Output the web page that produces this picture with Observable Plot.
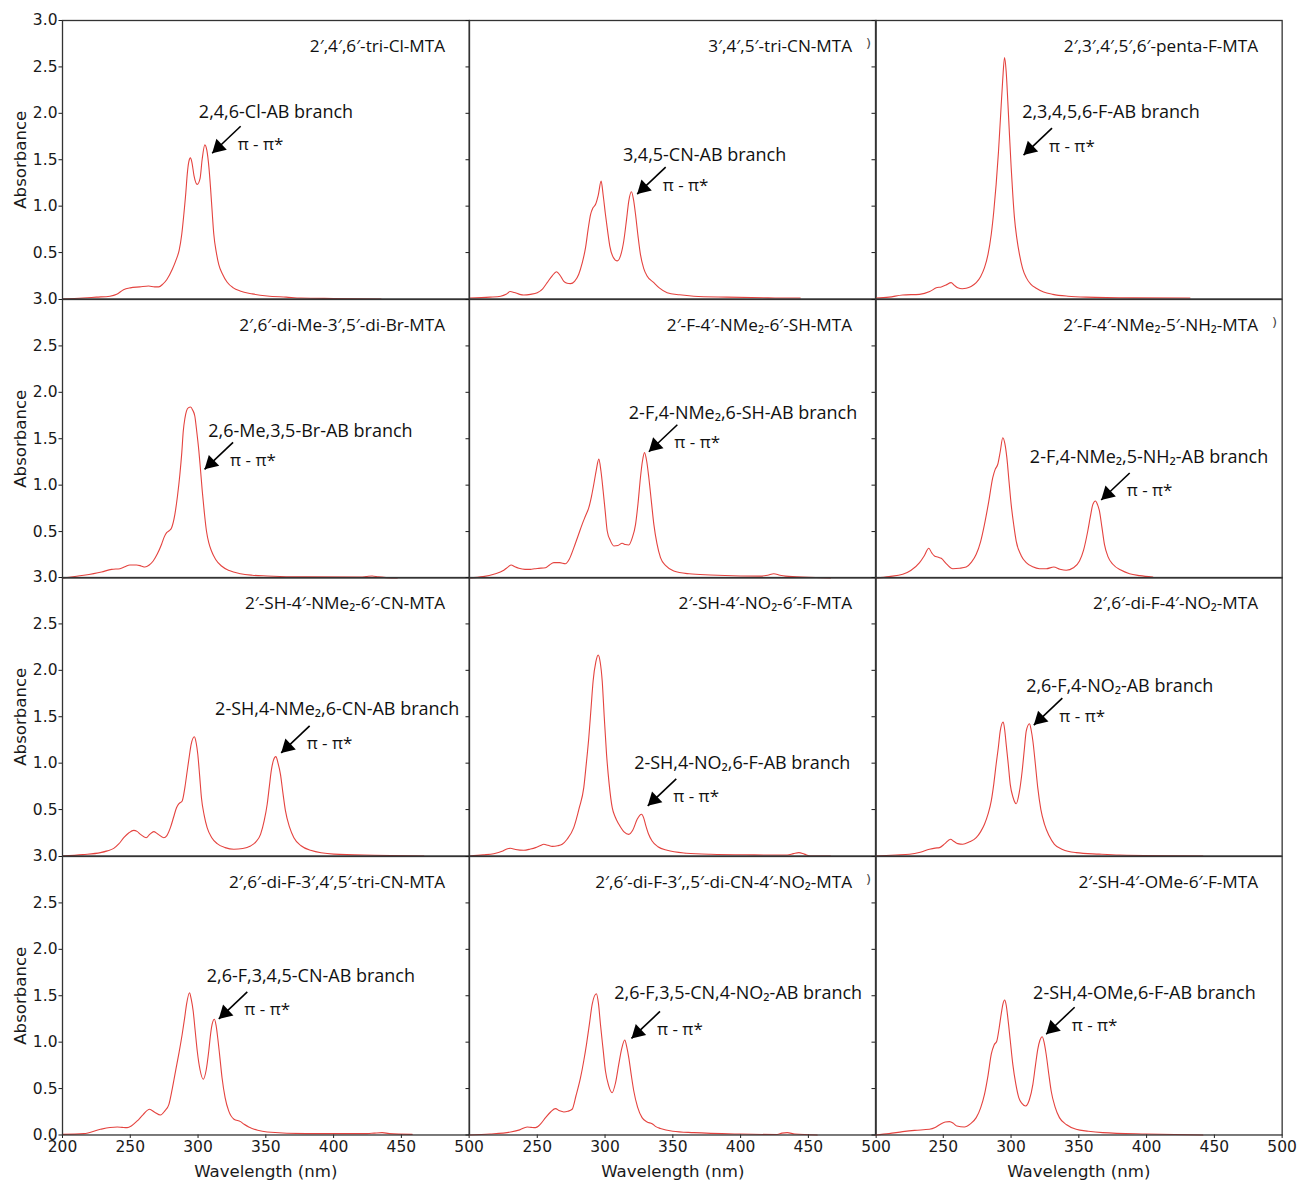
<!DOCTYPE html>
<html><head><meta charset="utf-8">
<script src="https://cdn.jsdelivr.net/npm/d3@7"></script>
<script src="https://cdn.jsdelivr.net/npm/@observablehq/plot@0.6"></script>
<style>
body{margin:0;background:#fff;}
#fig{position:relative;width:1298px;height:1180px;overflow:hidden;background:#fff;}
.panel{position:absolute;}
.panel svg{max-width:none !important;}
</style></head><body><div id="fig"></div>
<script>
// ---- data: UV-Vis spectra [wavelength nm, absorbance] ----
const triCl = [[200,0.0],[215,0.01],[225,0.02],[235,0.03],[240,0.05],[245,0.10],[250,0.12],[257,0.13],[263.5,0.14],[268,0.13],[271,0.13],[274,0.16],[277,0.21],[281,0.32],[284,0.43],[286,0.52],[288,0.70],[289.5,0.91],[291,1.15],[292,1.34],[293.2,1.48],[294.4,1.52],[295.5,1.47],[297,1.33],[299.4,1.235],[301.5,1.30],[303,1.50],[305,1.66],[306.5,1.60],[308,1.42],[309.2,1.20],[310.5,0.92],[311.6,0.70],[313.5,0.50],[315.3,0.37],[318,0.27],[321.5,0.18],[326,0.12],[331,0.086],[340,0.055],[351,0.032],[365,0.02],[376,0.01],[400,0.005],[435,0.0]];
const triCN = [[200,0.01],[215,0.02],[223,0.03],[227,0.05],[230,0.08],[233,0.07],[237,0.05],[240,0.043],[245,0.05],[250,0.068],[254,0.11],[257.3,0.176],[261,0.25],[264.2,0.294],[267,0.25],[269.6,0.19],[272,0.17],[274.5,0.165],[277.5,0.19],[280.6,0.266],[283,0.38],[285.6,0.553],[287.5,0.75],[289.3,0.91],[291,0.98],[293,1.02],[295,1.12],[297.1,1.27],[298.6,1.12],[300.3,0.91],[302,0.72],[303.5,0.57],[306,0.45],[309,0.41],[311.5,0.47],[313.8,0.625],[315.8,0.85],[317.5,1.055],[319.5,1.155],[321,1.07],[322.5,0.91],[324.3,0.68],[326.1,0.48],[328.5,0.33],[331,0.248],[336,0.176],[340,0.12],[345.8,0.068],[355,0.045],[365.5,0.03],[390,0.02],[420,0.012],[444,0.01]];
const pentaF = [[200,0.01],[210,0.02],[220,0.043],[232.5,0.05],[240,0.08],[244.8,0.12],[248.5,0.13],[252,0.15],[255.8,0.176],[258,0.15],[260.7,0.12],[264,0.11],[266.9,0.115],[270.5,0.135],[274.3,0.176],[277.5,0.24],[280.4,0.337],[283,0.48],[285.4,0.697],[287.3,0.95],[289,1.235],[290.7,1.58],[292.2,1.953],[293.8,2.35],[295.2,2.60],[296.4,2.45],[297.6,2.13],[298.9,1.75],[300.1,1.414],[301.3,1.12],[302.5,0.876],[304.3,0.65],[306.2,0.48],[308.5,0.33],[311.2,0.23],[314.5,0.16],[318.6,0.115],[324,0.075],[330.8,0.05],[342,0.03],[355.4,0.02],[390,0.012],[432,0.01]];
const diMeDiBr = [[200,0.0],[215.7,0.029],[228.8,0.065],[236.2,0.093],[242.4,0.10],[246,0.12],[249.7,0.14],[254.6,0.14],[258,0.13],[260.8,0.118],[264,0.14],[266.9,0.183],[270,0.26],[273.1,0.363],[275,0.44],[276.8,0.488],[278.8,0.51],[280.5,0.542],[282.9,0.686],[284.8,0.88],[286.6,1.117],[288,1.35],[289.1,1.583],[290.3,1.72],[291.5,1.80],[293,1.835],[294.5,1.842],[296,1.81],[297.6,1.745],[299.1,1.57],[300.6,1.368],[301.9,1.15],[303.1,0.937],[304.6,0.71],[306.2,0.506],[307.9,0.38],[309.9,0.291],[313,0.2],[317.3,0.129],[323,0.08],[331.3,0.046],[340,0.03],[351,0.022],[380,0.012],[419.8,0.01],[424,0.015],[428.4,0.022],[433,0.012],[446.9,0.0]];
const fNMe2SH = [[200,0.0],[210,0.015],[217.9,0.04],[225.3,0.083],[228.5,0.12],[230.7,0.14],[233.5,0.12],[236.4,0.104],[241,0.093],[245,0.093],[248,0.10],[251.1,0.104],[256.1,0.111],[259,0.14],[262.2,0.165],[266.5,0.165],[270.8,0.154],[273.5,0.2],[277,0.327],[280,0.45],[283.1,0.578],[285.6,0.67],[288,0.757],[290,0.88],[291.7,1.01],[293.5,1.16],[295.4,1.28],[297,1.15],[298.6,0.937],[300.1,0.72],[301.6,0.506],[304,0.40],[306.5,0.345],[309.5,0.35],[312.6,0.374],[315,0.36],[317.5,0.356],[320,0.43],[322.5,0.578],[324.3,0.8],[326.1,1.08],[327.6,1.26],[329.1,1.35],[330.7,1.26],[332.3,1.08],[334.2,0.82],[336,0.578],[338.3,0.37],[340.9,0.219],[345,0.13],[350.7,0.075],[362,0.045],[377.8,0.032],[400,0.022],[414.7,0.02],[420,0.03],[424.5,0.046],[429,0.03],[433.1,0.02],[450,0.008],[466.3,0.0]];
const fNMe2NH2 = [[200.5,0.0],[210,0.015],[220.1,0.04],[226,0.08],[232.5,0.165],[236,0.24],[239.3,0.32],[241.5,0.27],[243.5,0.237],[246,0.225],[248.5,0.212],[252.5,0.15],[257,0.10],[262,0.105],[266.9,0.118],[270.8,0.17],[274.3,0.255],[277.5,0.39],[280.4,0.578],[283.5,0.82],[286.5,1.08],[288.3,1.17],[290.2,1.225],[292,1.36],[293.9,1.51],[295.4,1.45],[296.9,1.296],[298.5,1.04],[300.1,0.79],[302,0.57],[303.8,0.398],[307.5,0.24],[311.2,0.165],[316,0.12],[321,0.10],[326,0.10],[331.5,0.118],[336,0.095],[340.7,0.083],[346,0.11],[350.5,0.183],[353.5,0.3],[356.6,0.506],[358.5,0.66],[360.3,0.79],[362.3,0.83],[363.8,0.79],[365.2,0.722],[367,0.55],[368.9,0.363],[371.5,0.23],[375.1,0.148],[381,0.085],[387.4,0.046],[395,0.025],[404.6,0.01]];
const shNMe2CN = [[200,0.0],[215,0.015],[228,0.036],[233,0.055],[237.8,0.082],[241.5,0.13],[245.2,0.197],[249,0.25],[252.6,0.276],[255,0.265],[257.5,0.233],[261.7,0.197],[264.5,0.235],[267.3,0.262],[270,0.24],[274.7,0.197],[277,0.22],[279.6,0.305],[282,0.42],[284.1,0.52],[286,0.565],[288.3,0.593],[290.3,0.74],[292,0.916],[293.6,1.08],[294.9,1.203],[297.3,1.285],[298.6,1.22],[299.8,1.096],[301.2,0.86],[302.5,0.628],[304.5,0.44],[306.7,0.305],[310,0.2],[314.1,0.133],[320,0.09],[326.4,0.072],[333,0.08],[338.7,0.108],[342.5,0.15],[346.1,0.233],[348.8,0.38],[351,0.557],[352.6,0.75],[354,0.916],[355.6,1.03],[357.4,1.07],[359,1.0],[360.8,0.88],[362.6,0.68],[364.5,0.485],[367.5,0.31],[370.7,0.197],[376,0.11],[383,0.061],[400.2,0.02],[430,0.008],[466.6,0.0]];
const shNO2F = [[200,0.0],[210,0.012],[217.9,0.025],[224,0.05],[227.5,0.075],[230.2,0.083],[234,0.07],[240,0.061],[245,0.075],[248.7,0.09],[252,0.11],[254.8,0.126],[258,0.115],[261,0.104],[265,0.11],[268.4,0.126],[272,0.18],[276.9,0.305],[281,0.52],[284.3,0.736],[286.2,1.0],[288,1.274],[289.7,1.6],[291.2,1.885],[293.2,2.09],[294.9,2.165],[296.4,2.09],[297.9,1.885],[299.4,1.5],[301.1,1.096],[303,0.78],[305.3,0.52],[307.5,0.42],[310.2,0.341],[314,0.26],[317.5,0.233],[320.5,0.28],[323.7,0.395],[326.9,0.449],[328.5,0.41],[329.8,0.341],[332,0.24],[334.7,0.162],[339,0.1],[345.8,0.061],[360,0.03],[377.8,0.018],[410,0.012],[434.4,0.01],[439,0.025],[443,0.036],[447,0.02],[451.6,0.0],[466.3,0.0]];
const diFNO2 = [[200.5,0.0],[215,0.01],[225.1,0.018],[233,0.04],[239.8,0.072],[244,0.085],[247.2,0.09],[251,0.13],[255.3,0.18],[258,0.155],[260.7,0.133],[264.4,0.126],[269,0.15],[274.3,0.197],[277.5,0.26],[280.4,0.341],[283,0.45],[285.4,0.593],[287.3,0.78],[289,0.988],[290.7,1.18],[292,1.346],[294.2,1.443],[295.3,1.36],[296.4,1.203],[298,0.98],[299.4,0.772],[301.5,0.63],[303.8,0.563],[306,0.68],[308.2,0.916],[309.8,1.15],[311.2,1.346],[313.6,1.425],[314.8,1.36],[316.1,1.239],[318,0.98],[319.7,0.736],[322,0.5],[324.7,0.341],[328,0.22],[332,0.126],[338,0.07],[348,0.036],[365,0.02],[380,0.01],[441.5,0.0]];
const diFTriCN = [[200,0.007],[215.7,0.015],[228,0.061],[235,0.08],[240.4,0.086],[244,0.082],[247.7,0.079],[251,0.1],[255.1,0.151],[259.5,0.22],[264.2,0.277],[268,0.245],[272.3,0.215],[275.5,0.26],[278.5,0.33],[281,0.5],[283.4,0.689],[286,0.89],[288.3,1.085],[290,1.25],[291.5,1.408],[293.7,1.533],[295,1.46],[296.4,1.336],[297.9,1.12],[299.4,0.905],[301.5,0.7],[303.8,0.6],[306,0.7],[307.9,0.905],[309.2,1.08],[310.4,1.193],[312.1,1.246],[313.3,1.18],[314.5,1.048],[316,0.85],[317.7,0.617],[320,0.4],[322.6,0.259],[326.5,0.17],[331.3,0.144],[334,0.115],[337.4,0.086],[344,0.05],[351,0.032],[380,0.015],[424.8,0.015],[430,0.02],[435.8,0.025],[441,0.015],[458,0.007]];
const diFDiCNNO2 = [[200,0.0],[215,0.01],[230.2,0.032],[237,0.055],[242.5,0.086],[245.5,0.082],[248.7,0.079],[252.5,0.12],[256.1,0.187],[260,0.25],[263.4,0.284],[266.5,0.26],[269.6,0.248],[272.5,0.255],[275.7,0.277],[278.5,0.42],[281.9,0.617],[284.3,0.8],[286.3,0.977],[288.5,1.2],[290.5,1.408],[293.6,1.522],[295.1,1.42],[296.6,1.193],[298.5,0.93],[300.3,0.689],[302.7,0.53],[305.2,0.456],[307.7,0.56],[310.1,0.761],[312.3,0.93],[314.5,1.023],[316,0.95],[317.5,0.833],[319.3,0.65],[321.2,0.474],[324,0.3],[327.3,0.187],[331,0.14],[334.7,0.122],[337.5,0.09],[340.8,0.07],[350,0.04],[365.5,0.025],[400,0.01],[427,0.005],[430.5,0.02],[434.4,0.025],[440,0.01],[456.5,0.0]];
const shOMeF = [[200,0.0],[210,0.015],[220.1,0.036],[228.8,0.05],[239.8,0.061],[244,0.08],[248.5,0.122],[251.5,0.14],[254.6,0.144],[257.5,0.125],[260,0.097],[265.6,0.086],[270,0.12],[274.3,0.187],[277.5,0.29],[280.4,0.438],[283,0.64],[285.4,0.87],[287.5,0.97],[289.5,1.013],[291.2,1.15],[292.7,1.3],[294,1.41],[295.2,1.454],[296.4,1.4],[297.6,1.264],[299.4,1.02],[301.3,0.761],[303.5,0.55],[305.7,0.402],[308,0.34],[310.7,0.312],[313.5,0.38],[316.1,0.546],[318,0.75],[319.7,0.923],[321.3,1.02],[323,1.059],[324.5,0.99],[325.9,0.87],[327.8,0.66],[329.6,0.474],[332.5,0.3],[335.7,0.187],[341,0.11],[348,0.061],[357,0.04],[367.7,0.025],[400,0.01],[441.5,0.0]];

const compounds = ["2′,4′,6′-tri-Cl-MTA","3′,4′,5′-tri-CN-MTA","2′,3′,4′,5′,6′-penta-F-MTA",
  "2′,6′-di-Me-3′,5′-di-Br-MTA","2′-F-4′-NMe₂-6′-SH-MTA","2′-F-4′-NMe₂-5′-NH₂-MTA",
  "2′-SH-4′-NMe₂-6′-CN-MTA","2′-SH-4′-NO₂-6′-F-MTA","2′,6′-di-F-4′-NO₂-MTA",
  "2′,6′-di-F-3′,4′,5′-tri-CN-MTA","2′,6′-di-F-3′,,5′-di-CN-4′-NO₂-MTA","2′-SH-4′-OMe-6′-F-MTA"];
const branches = ["2,4,6-Cl-AB branch","3,4,5-CN-AB branch","2,3,4,5,6-F-AB branch",
  "2,6-Me,3,5-Br-AB branch","2-F,4-NMe₂,6-SH-AB branch","2-F,4-NMe₂,5-NH₂-AB branch",
  "2-SH,4-NMe₂,6-CN-AB branch","2-SH,4-NO₂,6-F-AB branch","2,6-F,4-NO₂-AB branch",
  "2,6-F,3,4,5-CN-AB branch","2,6-F,3,5-CN,4-NO₂-AB branch","2-SH,4-OMe,6-F-AB branch"];
const transitionLabel = "π - π*";
const xLabel = "Wavelength (nm)", yLabel = "Absorbance";
const spectra = [triCl, triCN, pentaF, diMeDiBr, fNMe2SH, fNMe2NH2, shNMe2CN, shNO2F, diFNO2, diFTriCN, diFDiCNNO2, shOMeF];

// annotation anchors (data units): arrow tip and branch label centre
const arrowTips = [[310.4,1.57],[323.7,1.13],[309.2,1.55],[304.8,1.17],[332.3,1.36],[366.5,0.84],[361.3,1.11],[331.5,0.54],[316.8,1.41],[315.3,1.25],[319.5,1.04],[325.9,1.085]];
const branchAt = [[357.5,2.01],[373.4,1.55],[373.7,2.01],[382.9,1.58],[401.8,1.78],[401.8,1.30],[402.6,1.58],[401.2,1.00],[380.2,1.83],[383.2,1.71],[398.2,1.53],[398.4,1.53]];
const strayMarks = [null, ")", null, null, null, ")", null, null, null, null, ")", null];

const xTicksFirst = [200,250,300,350,400,450,500];
const xTicksRest = [250,300,350,400,450,500];
const yTicksTop = [0.5,1.0,1.5,2.0,2.5,3.0];
const yTicksBottom = [0.0,0.5,1.0,1.5,2.0,2.5,3.0];

// ---- layout ----
const W = 406.67, H = 278.5, L0 = 62, T0 = 20;
const lineColor = "#e4433f";
const axisFont = {fontFamily: "DejaVu Sans", fontSize: 15.5, fill: "#1a1a1a"};
const fig = document.getElementById("fig");

spectra.forEach((spec, i) => {
  const r = Math.floor(i / 3), c = i % 3;
  const bottom = r === 3, first = c === 0;
  const tip = arrowTips[i];
  const tail = [tip[0] + 28.5 * 300 / W, tip[1] + 27 * 3 / H];
  const marks = [
    Plot.line(spec, {x: d => d[0], y: d => d[1], stroke: lineColor, strokeWidth: 1.1, curve: "monotone-x"}),
    Plot.axisY({ticks: bottom ? yTicksBottom : yTicksTop, tickSize: 3.5, tickPadding: 1.5,
      tickFormat: first ? d3.format(".1f") : () => "", ...axisFont, label: null}),
  ];
  if (first) marks.push(Plot.text([yLabel], {text: d => d, frameAnchor: "left", rotate: -90, dx: -42,
      textAnchor: "middle", lineAnchor: "middle", fontFamily: "DejaVu Sans", fontSize: 16.6, fill: "#1a1a1a"}));
  if (bottom) marks.push(
    Plot.axisX({ticks: first ? xTicksFirst : xTicksRest, tickSize: 3.5, tickPadding: 3,
      tickFormat: d3.format("d"), ...axisFont, label: null}),
    Plot.text([xLabel], {text: d => d, frameAnchor: "bottom", dy: 37, textAnchor: "middle", lineAnchor: "middle",
      fontFamily: "DejaVu Sans", fontSize: 16.6, fill: "#1a1a1a"}));
  marks.push(
    Plot.frame({stroke: "#333", strokeWidth: 1.3}),
    Plot.text([compounds[i]], {text: d => d, frameAnchor: "top-right", dx: -24, dy: 26, textAnchor: "end",
      lineAnchor: "middle", fontFamily: "Open Sans", fontSize: 17.2, fill: "#111"}),
    Plot.text([{label: branches[i], x: branchAt[i][0], y: branchAt[i][1]}], {x: "x", y: "y", text: "label",
      textAnchor: "middle", lineAnchor: "middle", fontFamily: "Open Sans", fontSize: 18, fill: "#111"}),
    Plot.text([{x: tail[0], y: tail[1]}], {x: "x", y: "y", text: () => transitionLabel, dx: -3, dy: 18,
      textAnchor: "start", lineAnchor: "middle", fontFamily: "Open Sans", fontSize: 17, fill: "#111"}),
    Plot.link([{x1: tail[0], y1: tail[1], x2: tip[0], y2: tip[1]}], {x1: "x1", y1: "y1", x2: "x2", y2: "y2",
      stroke: "#000", strokeWidth: 1.6}),
    Plot.dot([{x: tip[0], y: tip[1]}], {x: "x", y: "y", symbol: "triangle", r: 5.6, fill: "#000", stroke: "none",
      rotate: 226.5, dx: 6.3, dy: -6.0})
  );
  if (strayMarks[i]) marks.push(Plot.text([strayMarks[i]], {text: d => d, frameAnchor: "top-right", dx: -5, dy: 18,
      fontSize: 13, fill: "#444"}));
  const svg = Plot.plot({
    width: W, height: H, margin: 0,
    x: {domain: [200, 500], ...(bottom ? {} : {axis: null})},
    y: {domain: [0, 3]},
    style: {overflow: "visible", background: "transparent", fontFamily: "DejaVu Sans", fontSize: "15.5px", color: "#1a1a1a"},
    marks
  });
  const div = document.createElement("div");
  div.className = "panel";
  div.style.left = (L0 + c * W) + "px";
  div.style.top = (T0 + r * H) + "px";
  div.style.width = W + "px";
  div.style.height = H + "px";
  div.appendChild(svg);
  fig.appendChild(div);
});
</script></body></html>
